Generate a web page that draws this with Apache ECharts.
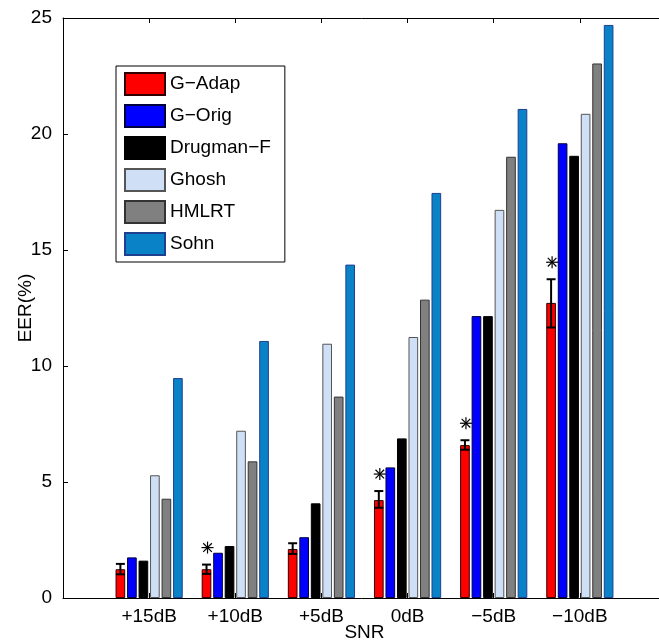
<!DOCTYPE html>
<html>
<head>
<meta charset="utf-8">
<script src="https://cdn.jsdelivr.net/npm/echarts@6/dist/echarts.min.js"></script>
<style>
  html, body { margin: 0; padding: 0; background: #fff; overflow: hidden; }
  #chart { width: 659px; height: 641px; }
</style>
</head>
<body>
<div id="chart"></div>
<script>
// SNR conditions (empty ends give the axis room on both sides like the original)
var categories = ['', '+15dB', '+10dB', '+5dB', '0dB', '\u22125dB', '\u221210dB', ''];

var names = ['G\u2212Adap', 'G\u2212Orig', 'Drugman\u2212F', 'Ghosh', 'HMLRT', 'Sohn'];
var gAdap    = [1.24, 1.24, 2.11, 4.22, 6.59, 12.72];
var gOrig    = [1.75, 1.95, 2.62, 5.63, 12.15, 19.60];
var drugman  = [1.61, 2.24, 4.08, 6.88, 12.15, 19.06];
var ghosh    = [5.29, 7.21, 10.96, 11.25, 16.73, 20.87];
var hmlrt    = [4.28, 5.89, 8.68, 12.86, 19.02, 23.04];
var sohn     = [9.48, 11.08, 14.37, 17.46, 21.08, 24.70];

// error bars on G-Adap
var errLow  = [1.02, 1.04, 1.90, 3.89, 6.39, 11.66];
var errHigh = [1.47, 1.44, 2.36, 4.61, 6.80, 13.74];
// significance marks (asterisk above G-Adap)
var signif  = [false, true, false, true, true, true];

var yTicks = [0, 5, 10, 15, 20, 25];

var fills   = ['#ff0000', '#0000ff', '#000000', '#cfe0f6', '#808080', '#0a82c8'];
var borders = ['#300000', '#000040', '#000000', '#555555', '#333333', '#1f3f8f'];

var catGap = 0.22, barGapR = 0.19, nBars = 6;
var font = 'Liberation Sans, Arial, Helvetica, sans-serif';

function pad(v) { return [null].concat(v, [null]); }

function redOffset(band) {
  var groupW = band * (1 - catGap);
  var bw = groupW / (nBars + (nBars - 1) * barGapR);
  var sum = bw * nBars + bw * barGapR * (nBars - 1);
  return -sum / 2 + bw / 2;
}

var allSeries = [gAdap, gOrig, drugman, ghosh, hmlrt, sohn];
var series = allSeries.map(function (vals, i) {
  return {
    name: names[i],
    type: 'bar',
    data: pad(vals),
    barCategoryGap: (catGap * 100) + '%',
    barGap: (barGapR * 100) + '%',
    itemStyle: { color: fills[i], borderColor: borders[i], borderWidth: 1 },
    emphasis: { disabled: true },
    z: 2
  };
});

var errData = errLow.map(function (lo, i) { return [i + 1, lo, errHigh[i]]; });
series.push({
  type: 'custom',
  data: errData,
  z: 5,
  silent: true,
  renderItem: function (params, api) {
    var band = api.size([1, 0])[0];
    var off = redOffset(band);
    var lo = api.coord([api.value(0), api.value(1)]);
    var hi = api.coord([api.value(0), api.value(2)]);
    var x = lo[0] + off, cap = 4.5;
    var st = { stroke: '#000', lineWidth: 2 };
    return {
      type: 'group',
      children: [
        { type: 'line', shape: { x1: x, y1: lo[1], x2: x, y2: hi[1] }, style: st },
        { type: 'line', shape: { x1: x - cap, y1: lo[1], x2: x + cap, y2: lo[1] }, style: st },
        { type: 'line', shape: { x1: x - cap, y1: hi[1], x2: x + cap, y2: hi[1] }, style: st }
      ]
    };
  }
});

var starData = [];
signif.forEach(function (s, i) { if (s) starData.push([i + 1, errHigh[i]]); });
series.push({
  type: 'custom',
  data: starData,
  z: 5,
  silent: true,
  renderItem: function (params, api) {
    var band = api.size([1, 0])[0];
    var p = api.coord([api.value(0), api.value(1)]);
    var cx = p[0] + redOffset(band) + 1, cy = p[1] - 17, r = 6, d = 4.3;
    var st = { stroke: '#000', lineWidth: 1.2 };
    return {
      type: 'group',
      children: [
        { type: 'line', shape: { x1: cx - r, y1: cy, x2: cx + r, y2: cy }, style: st },
        { type: 'line', shape: { x1: cx, y1: cy - r, x2: cx, y2: cy + r }, style: st },
        { type: 'line', shape: { x1: cx - d, y1: cy - d, x2: cx + d, y2: cy + d }, style: st },
        { type: 'line', shape: { x1: cx - d, y1: cy + d, x2: cx + d, y2: cy - d }, style: st }
      ]
    };
  }
});

var chart = echarts.init(document.getElementById('chart'), null, { renderer: 'canvas' });

var option = {
  animation: false,
  backgroundColor: '#fff',
  textStyle: { fontFamily: font, color: '#000' },
  grid: { left: 63, top: 18, width: 603, height: 580, containLabel: false, outerBoundsMode: 'none' },
  legend: {
    data: names,
    orient: 'vertical',
    left: 116,
    top: 66,
    padding: [6, 14, 6, 8],
    itemWidth: 40,
    itemHeight: 22,
    itemGap: 8,
    itemTextGap: 5,
    icon: 'rect',
    borderColor: '#000',
    borderWidth: 1,
    backgroundColor: '#fff',
    selectedMode: false,
    textStyle: { fontSize: 19, fontFamily: font, color: '#000', lineHeight: 22 }
  },
  xAxis: [
    {
      type: 'category',
      data: categories,
      boundaryGap: false,
      name: 'SNR',
      nameLocation: 'middle',
      nameGap: 25,
      nameMoveOverlap: false,
      nameTextStyle: { fontSize: 19, fontFamily: font, color: '#000', lineHeight: 19 },
      axisLine: { lineStyle: { color: '#000', width: 1 } },
      axisTick: { inside: true, length: 5, lineStyle: { color: '#000' } },
      axisLabel: { interval: 0, fontSize: 19, fontFamily: font, color: '#000', margin: 9 },
      splitLine: { show: false }
    },
    {
      type: 'category',
      data: categories,
      boundaryGap: false,
      position: 'top',
      axisLine: { lineStyle: { color: '#000', width: 1 } },
      axisTick: { inside: true, length: 5, lineStyle: { color: '#000' } },
      axisLabel: { show: false },
      splitLine: { show: false }
    }
  ],
  yAxis: {
    type: 'value',
    min: yTicks[0],
    max: yTicks[yTicks.length - 1],
    interval: 5,
    name: 'EER(%)',
    nameLocation: 'middle',
    nameGap: 28,
    nameMoveOverlap: false,
    nameTextStyle: { fontSize: 19, fontFamily: font, color: '#000', lineHeight: 19 },
    axisLine: { show: true, lineStyle: { color: '#000', width: 1 } },
    axisTick: { show: true, inside: true, length: 5, lineStyle: { color: '#000' } },
    axisLabel: { fontSize: 19, fontFamily: font, color: '#000', margin: 11 },
    splitLine: { show: false }
  },
  series: series
};

option && chart.setOption(option);
</script>
</body>
</html>
